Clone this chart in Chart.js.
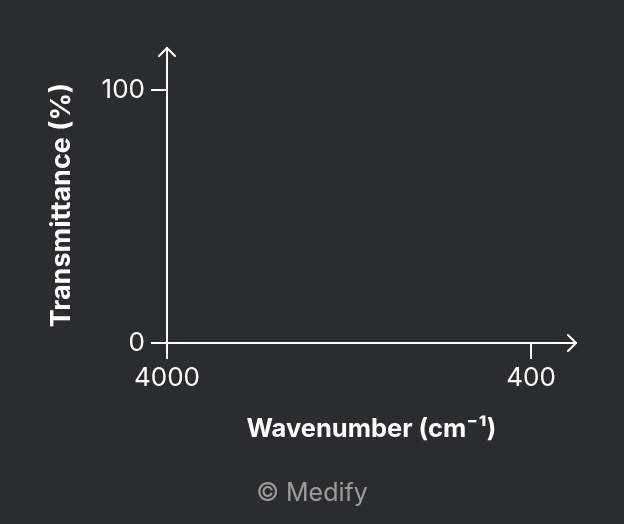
<!DOCTYPE html>
<html>
<head>
<meta charset="utf-8">
<script src="https://cdn.jsdelivr.net/npm/chart.js@4"></script>
<style>
  html, body { margin: 0; padding: 0; background: #2b2c2e; }
  #wrap { width: 624px; height: 524px; }
</style>
</head>
<body>
<div id="wrap"><canvas id="irChart" width="624" height="524"></canvas></div>
<script>
// Chart values
const xTicks = [4000, 400];
const yTicks = [0, 100];
const spectrum = [];          // empty template: no trace drawn
const xTitle = 'Wavenumber (cm⁻¹)';
const yTitle = 'Transmittance (%)\u00a0\u00a0\u00a0';   // trailing spaces nudge it down a bit
const credit = '© Medify';

const axisColor = '#ffffff';
const fontFamily = 'Inter, "Noto Sans", sans-serif';

// Arrowheads at the open ends of both axes + credit line
const axisArrows = {
    id: 'axisArrows',
    afterDraw(chart) {
        const {ctx, chartArea: a} = chart;
        ctx.save();
        ctx.strokeStyle = axisColor;
        ctx.lineWidth = 2;
        ctx.lineCap = 'round';
        ctx.lineJoin = 'round';
        // y arrow
        ctx.beginPath();
        ctx.moveTo(a.left - 8, a.top + 8);
        ctx.lineTo(a.left, a.top);
        ctx.lineTo(a.left + 8, a.top + 8);
        ctx.stroke();
        // x arrow
        ctx.beginPath();
        ctx.moveTo(a.right - 8, a.bottom - 8);
        ctx.lineTo(a.right, a.bottom);
        ctx.lineTo(a.right - 8, a.bottom + 8);
        ctx.stroke();
        // credit
        ctx.fillStyle = '#9d9d9d';
        ctx.font = '25px ' + fontFamily;
        ctx.textAlign = 'center';
        ctx.textBaseline = 'middle';
        ctx.fillText(credit, 312, 493);
        ctx.restore();
    }
};

const tickFont = {family: fontFamily, size: 26};

new Chart(document.getElementById('irChart').getContext('2d'), {
    type: 'scatter',
    data: {datasets: [{label: 'Spectrum', data: spectrum, showLine: true, borderColor: axisColor, pointRadius: 0}]},
    options: {
        responsive: false,
        animation: false,
        devicePixelRatio: 1,
        layout: {padding: {top: 48, right: 48, left: 0, bottom: 0}},
        plugins: {legend: {display: false}, tooltip: {enabled: false}},
        scales: {
            x: {
                type: 'linear',
                reverse: true,
                min: -45, max: 4000,
                afterBuildTicks: s => { s.ticks = xTicks.map(v => ({value: v})); },
                afterFit: s => { s.height = 181; },
                ticks: {color: axisColor, font: tickFont, padding: 4, autoSkip: false, maxRotation: 0, callback: v => String(v)},
                grid: {display: true, drawOnChartArea: false, drawTicks: true, tickLength: 16, color: axisColor, lineWidth: 2},
                border: {display: true, color: axisColor, width: 2},
                title: {display: true, text: xTitle, color: axisColor, font: {family: fontFamily, size: 25.5, weight: 'bold'}, padding: {top: 0, bottom: 79}}
            },
            y: {
                type: 'linear',
                min: 0, max: 116.6,
                afterBuildTicks: s => { s.ticks = yTicks.map(v => ({value: v})); },
                afterFit: s => { s.width = 167; },
                ticks: {color: axisColor, font: tickFont, padding: 6, autoSkip: false, callback: v => String(v)},
                grid: {display: true, drawOnChartArea: false, drawTicks: true, tickLength: 16, color: axisColor, lineWidth: 2},
                border: {display: true, color: axisColor, width: 2},
                title: {display: true, text: yTitle, color: axisColor, font: {family: fontFamily, size: 27, weight: 'bold'}, padding: {top: 46, bottom: 0}}
            }
        }
    },
    plugins: [axisArrows]
});
</script>
</body>
</html>
